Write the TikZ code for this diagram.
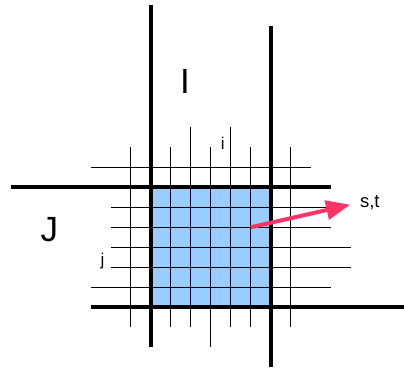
\documentclass[tikz,border=0pt]{standalone}
\usepackage{fontspec}
\setmainfont{Liberation Sans}
\usetikzlibrary{arrows.meta,positioning}
\definecolor{cellColor}{RGB}{153,204,255}
\definecolor{arrowColor}{RGB}{255,51,102}
\newcommand{\gridbigfont}{\fontsize{35}{40}\selectfont}
\newcommand{\gridsmallfont}{\fontsize{17}{19}\selectfont}

\begin{document}
\begin{tikzpicture}[
        x=20pt, y=20pt,
        block/.style={line width=4pt},
        fine/.style={line width=1pt},
        biglbl/.style={inner sep=0pt, font=\gridbigfont},
        lbl/.style={inner sep=0pt, font=\gridsmallfont},
        arr/.style={-{Triangle[length=24pt, width=19pt]}, line width=4pt, arrowColor}
      ]
      \useasboundingbox (-7.535,-3.085) rectangle (12.665,15.365);
      \fill[cellColor] (0,0) rectangle (6,6);

      % fine grid
      \foreach \x in {-1,1,5,7} \draw[fine] (\x,-1) -- (\x,8);
      \draw[fine] (2,-1) -- (2,9);
      \draw[fine] (4,-1) -- (4,9);
      \draw[fine] (3,-2) -- (3,8);
      \draw[fine] (-3,7) -- (8,7);
      \draw[fine] (-2,5) -- (9,5);
      \draw[fine] (-2,4) -- (9,4);
      \draw[fine] (-2,3) -- (10,3);
      \draw[fine] (-2,2) -- (10,2);
      \draw[fine] (-3,1) -- (9,1);

      % coarse block edges
      \draw[block] (0,-2) -- (0,15.1);
      \draw[block] (6,-3) -- (6,14.05);
      \draw[block] (-7,6) -- (9,6);
      \draw[block] (-3,0) -- (12.7,0);

      \node[biglbl] (bigI) at (1.71,11.28) {I};
      \node[biglbl] (bigJ) at (-5.07,3.87) {J};
      \node[lbl] (smalli) at (3.6,8.22) {i};
      \node[lbl] (smallj) at (-2.41,2.33) {j};
      \node[lbl, font=\fontsize{18.5}{20}\selectfont, anchor=base west] (st) at (10.46,5.0) {s,t};

      \coordinate (src) at (5,4);
      \draw[arr, shorten >=10pt] (src) -- (st.west);
    \end{tikzpicture}
\end{document}
